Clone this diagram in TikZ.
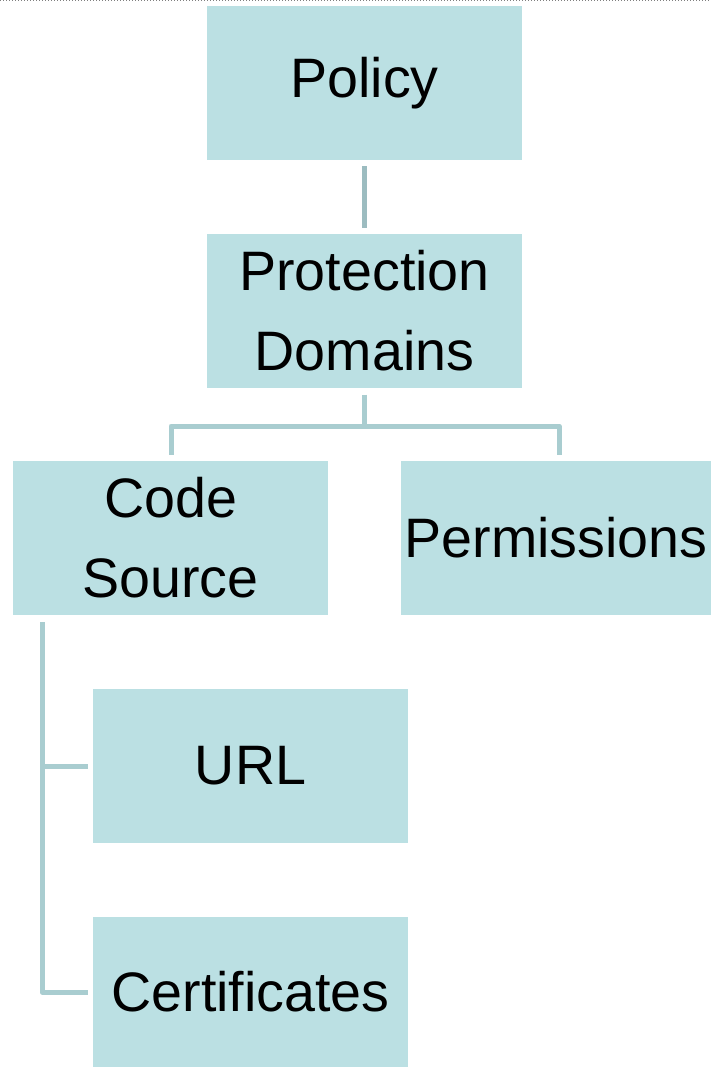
\documentclass[tikz,border=0pt]{standalone}
\usepackage{fontspec}
\setmainfont{Liberation Sans}
\definecolor{boxfill}{HTML}{BBE0E3}
\definecolor{linkA}{HTML}{9CBCC0}
\definecolor{linkB}{HTML}{A9CDD0}
\begin{document}
\begin{tikzpicture}[x=1pt,y=-1pt,
  box/.style={fill=boxfill, draw=none, minimum width=315pt, minimum height=154pt,
    inner sep=0pt, align=center, font=\fontsize{55.6}{80}\selectfont},
  link/.style={line width=5pt, draw=linkB, line join=round},
  linkdark/.style={line width=5pt, draw=linkA}]
\useasboundingbox (0,0) rectangle (711,1068);
\draw[gray, dotted, line width=1pt] (0,0.5) -- (711,0.5);
\node[box] (pol) at (364.5,83) {Policy};
\node[box] (pd) at (364.5,310.5) {Protection\\Domains};
\node[box] (cs) at (170.5,538) {Code\\Source};
\node[box, minimum width=310pt, anchor=west] (perm) at (401,538) {Permissions};
\node[box] (url) at (250.5,766) {URL};
\node[box, minimum height=150pt] (cert) at (250.5,992) {Certificates};
\coordinate (bus) at (364.5,426);
\draw[linkdark] ([yshift=-6pt]pol.south) -- ([yshift=5pt]pd.north);
\draw[link] ([yshift=-7pt]pd.south) -- (bus);
\draw[link] (cs.north -| 171,0) ++(0,-6) |- (bus) -| (559,455);
\coordinate (stem) at (42,622);
\draw[link] (stem) |- ([xshift=-5pt]cert.west);
\draw[link] (stem |- url.west) -- ([xshift=-5pt]url.west);
\end{tikzpicture}
\end{document}
